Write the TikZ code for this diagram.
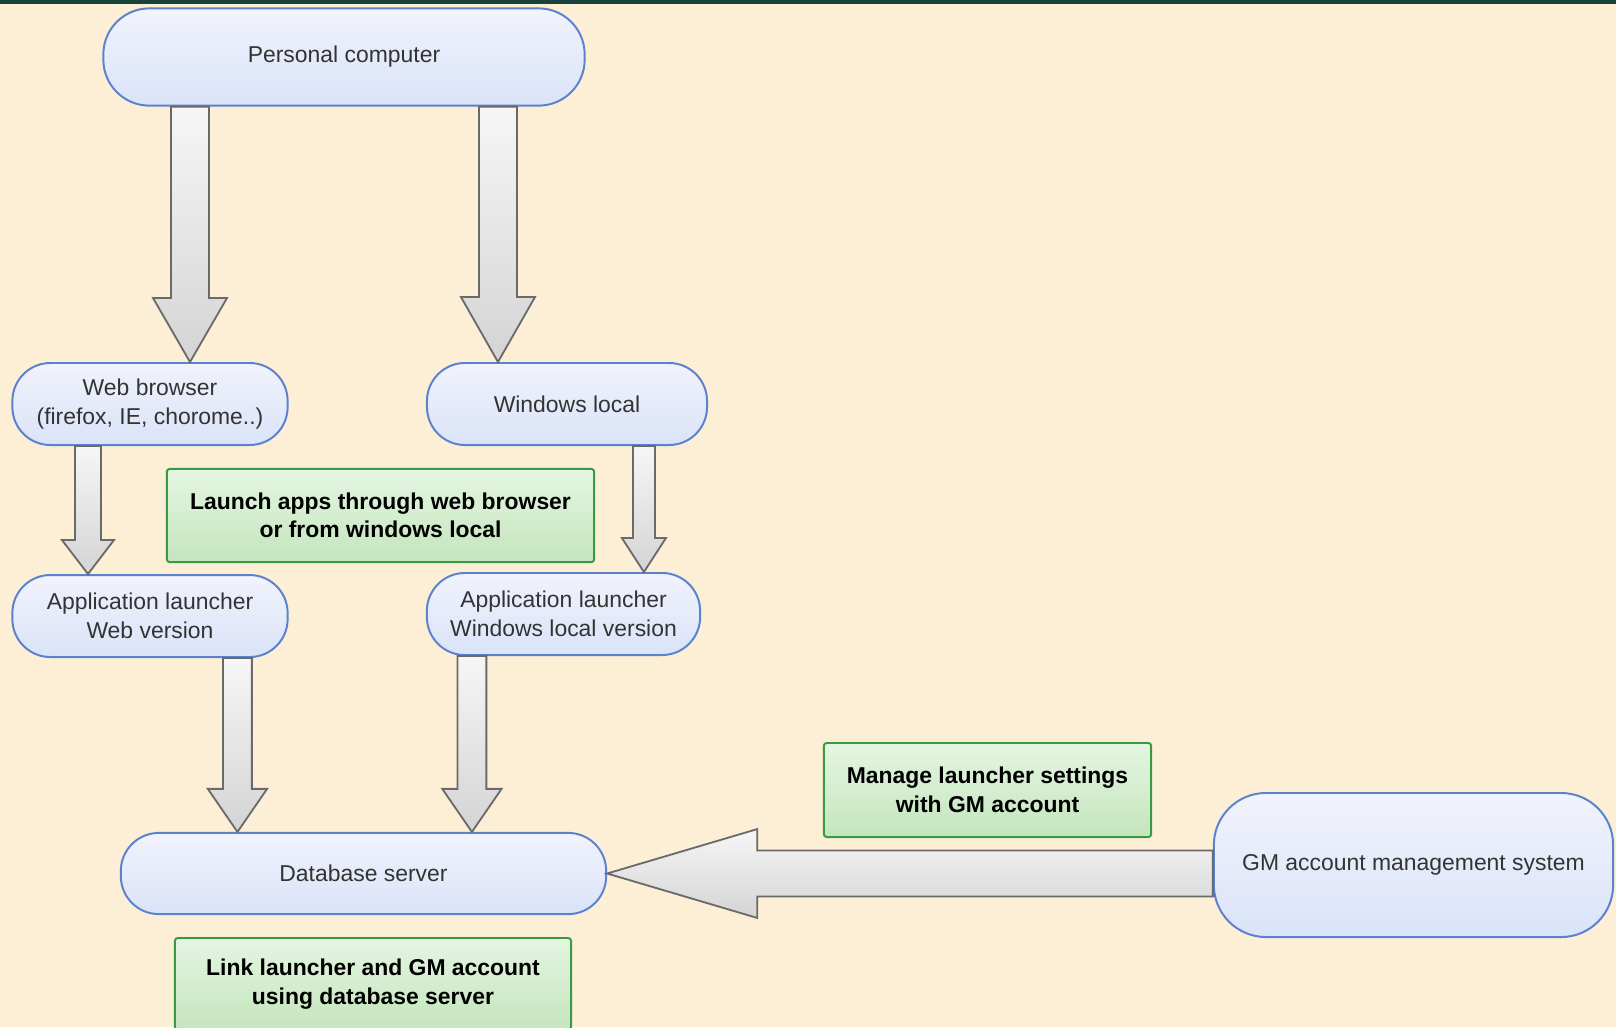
\documentclass[tikz,border=0pt]{standalone}
\usepackage{fontspec}
\setmainfont{Liberation Sans}
\usetikzlibrary{positioning,calc}

\definecolor{bgcream}{HTML}{FCEFD6}
\definecolor{topband}{HTML}{18433A}
\definecolor{boxblue}{HTML}{5B82CE}
\definecolor{blueup}{HTML}{F1F3FC}
\definecolor{bluedown}{HTML}{DAE3F8}
\definecolor{boxgreen}{HTML}{3A9A44}
\definecolor{greenup}{HTML}{E4F6E1}
\definecolor{greendown}{HTML}{C4E5BD}
\definecolor{arrowedge}{HTML}{6A6A6A}
\definecolor{arrowup}{HTML}{F6F6F6}
\definecolor{arrowdown}{HTML}{D4D4D4}
\definecolor{textgray}{HTML}{333333}

% block arrow pointing down: from, tip, shaft half width, head half width, head length
\newcommand{\blockdown}[5]{%
  \draw[blockarrow] let \p1=(#1), \p2=(#2) in
    (\x2-#3,\y1) -- (\x2+#3,\y1) -- (\x2+#3,\y2+#5) -- (\x2+#4,\y2+#5)
    -- (\x2,\y2) -- (\x2-#4,\y2+#5) -- (\x2-#3,\y2+#5) -- cycle;}
% block arrow pointing left
\newcommand{\blockleft}[5]{%
  \draw[blockarrow] let \p1=(#1), \p2=(#2) in
    (\x1,\y2+#3) -- (\x1,\y2-#3) -- (\x2+#5,\y2-#3) -- (\x2+#5,\y2-#4)
    -- (\x2,\y2) -- (\x2+#5,\y2+#4) -- (\x2+#5,\y2+#3) -- cycle;}

\begin{document}
\begin{tikzpicture}[x=0.025cm, y=-0.025cm,
    process/.style={rectangle, draw=boxblue, line width=1.4pt, top color=blueup, bottom color=bluedown, rounded corners=0.95cm, minimum width=6.88cm, minimum height=2.05cm, align=center, text=textgray, font=\fontsize{16.3}{20.3}\selectfont},
    note/.style={rectangle, draw=boxgreen, line width=1.4pt, top color=greenup, bottom color=greendown, rounded corners=2pt, minimum height=2.33cm, align=center, font=\bfseries\fontsize{16.3}{20.3}\selectfont},
    blockarrow/.style={draw=arrowedge, line width=1.3pt, top color=arrowup, bottom color=arrowdown}]

    % Background
    \useasboundingbox (0,0) rectangle (1616,1027);
    \fill[bgcream] (0,0) rectangle (1616,1027);
    \fill[topband] (0,0) rectangle (1616,4);

    % Client side
    \node[process, minimum width=12.03cm, minimum height=2.43cm, rounded corners=1.15cm] (pc) at (344,57) {Personal computer};
    \node[process] (web) at (150,404) {Web browser\\(firefox, IE, chorome..)};
    \node[process, minimum width=7cm] (winlocal) at (567,404) {Windows local};

    % Launchers
    \node[process, below=3.2cm of web] (appweb) {Application launcher\\Web version};
    \node[process, minimum width=6.83cm] (appwin) at (563.5,614) {Application launcher\\Windows local version};

    % Server side
    \node[process, minimum width=12.13cm, minimum height=2.03cm] (db) at (363.5,873.5) {Database server};
    \node[process, minimum width=9.98cm, minimum height=3.6cm, rounded corners=1.3cm] (gm) at (1413.5,865) {GM account management system};

    % Notes
    \node[note, minimum width=10.68cm] (launch) at (380.5,515.5) {Launch apps through web browser\\or from windows local};
    \node[note, minimum width=8.18cm, minimum height=2.35cm] (manage) at (987.5,790) {Manage launcher settings\\with GM account};
    \node[note, minimum width=9.9cm, minimum height=2.3cm] (link) at (373,984) {Link launcher and GM account\\using database server};

    % Arrow tips
    \coordinate (pcweb) at ([xshift=1cm]web.north);
    \coordinate (pcwin) at ([xshift=-1.725cm]winlocal.north);
    \coordinate (webapp) at ([xshift=-1.55cm]appweb.north);
    \coordinate (winapp) at ([xshift=2.01cm]appwin.north);
    \coordinate (appdbweb) at ([xshift=-3.15cm]db.north);
    \coordinate (appdbwin) at ([xshift=2.71cm]db.north);

    % Connect with block arrows
    \blockdown{pc.south}{pcweb}{0.475cm}{0.925cm}{1.6cm}
    \blockdown{pc.south}{pcwin}{0.475cm}{0.925cm}{1.625cm}
    \blockdown{web.south}{webapp}{0.325cm}{0.65cm}{0.85cm}
    \blockdown{winlocal.south}{winapp}{0.275cm}{0.55cm}{0.85cm}
    \blockdown{appweb.south}{appdbweb}{0.36cm}{0.74cm}{1.075cm}
    \blockdown{appwin.south}{appdbwin}{0.36cm}{0.74cm}{1.075cm}
    \blockleft{gm.west}{db.east}{0.575cm}{1.11cm}{3.75cm}
\end{tikzpicture}
\end{document}
